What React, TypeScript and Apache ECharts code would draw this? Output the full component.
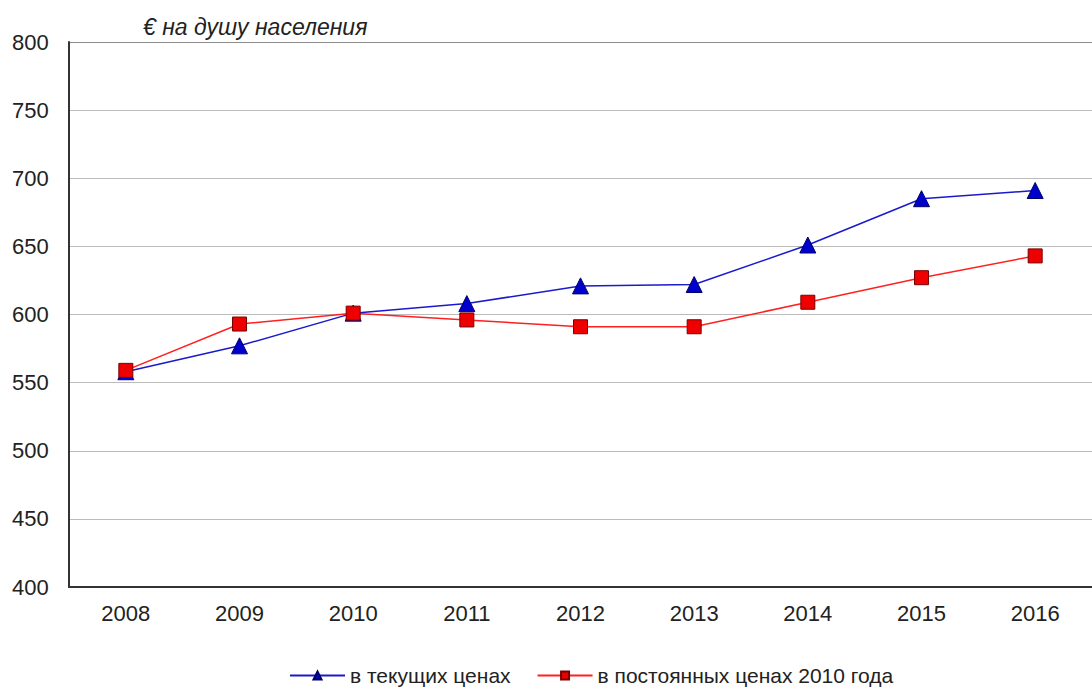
import React, { useEffect, useRef } from "react";
import * as echarts from "echarts";

const years = ["2008", "2009", "2010", "2011", "2012", "2013", "2014", "2015", "2016"];
const currentPrices = [558, 577, 601, 608, 621, 622, 651, 685, 691];
const constantPrices = [559, 593, 601, 596, 591, 591, 609, 627, 643];
const seriesNames = ["в текущих ценах", "в постоянных ценах 2010 года"];
const unitLabel = "€ на душу населения";

export default function App() {
  const ref = useRef<HTMLDivElement>(null);
  useEffect(() => {
    document.body.style.margin = "0";
    const chart = echarts.init(ref.current!, null, { renderer: "svg" });
    const font = "Arial, 'Liberation Sans', sans-serif";
    const gridColors = ["#bbbbbb", "#bbbbbb", "#bbbbbb", "#bbbbbb", "#bbbbbb", "#bbbbbb", "#bbbbbb", "#bbbbbb", "#8c8c8c"];
    chart.setOption({
      animation: false,
      backgroundColor: "#ffffff",
      textStyle: { fontFamily: font },
      grid: { left: 69, top: 42, width: 1031, height: 545, containLabel: false },
      graphic: [
        {
          type: "text",
          left: 143,
          top: 15,
          style: { text: unitLabel, font: `italic 23px ${font}`, fill: "#222" },
        },
      ],
      legend: {
        top: 665,
        left: 289,
        padding: 0,
        itemWidth: 55,
        itemHeight: 10,
        itemGap: 26,
        textStyle: { fontSize: 21, color: "#222", fontFamily: font },
        data: [seriesNames[0], seriesNames[1]],
      },
      xAxis: {
        type: "category",
        data: years,
        boundaryGap: true,
        axisLine: { lineStyle: { color: "#333", width: 2 } },
        axisTick: { show: false },
        axisLabel: { fontSize: 22, color: "#222", margin: 15, fontFamily: font },
      },
      yAxis: {
        type: "value",
        min: 400,
        max: 800,
        interval: 50,
        axisLine: { show: true, lineStyle: { color: "#333", width: 2 } },
        axisTick: { show: false },
        axisLabel: { fontSize: 22, color: "#222", margin: 57, align: "left", fontFamily: font },
        splitLine: { lineStyle: { color: gridColors, width: 1 } },
      },
      series: [
        {
          name: seriesNames[0],
          type: "line",
          data: currentPrices,
          symbol: "triangle",
          symbolSize: 16,
          lineStyle: { color: "#1a1acc", width: 1.5 },
          itemStyle: { color: "#0000cc", borderColor: "#000066", borderWidth: 1 },
          z: 2,
        },
        {
          name: seriesNames[1],
          type: "line",
          data: constantPrices,
          symbol: "rect",
          symbolSize: 14,
          lineStyle: { color: "#ff2020", width: 1.5 },
          itemStyle: { color: "#ee0000", borderColor: "#7a0000", borderWidth: 1 },
          z: 3,
        },
      ],
    });
    return () => chart.dispose();
  }, []);
  return <div ref={ref} style={{ width: 1092, height: 691 }} />;
}
